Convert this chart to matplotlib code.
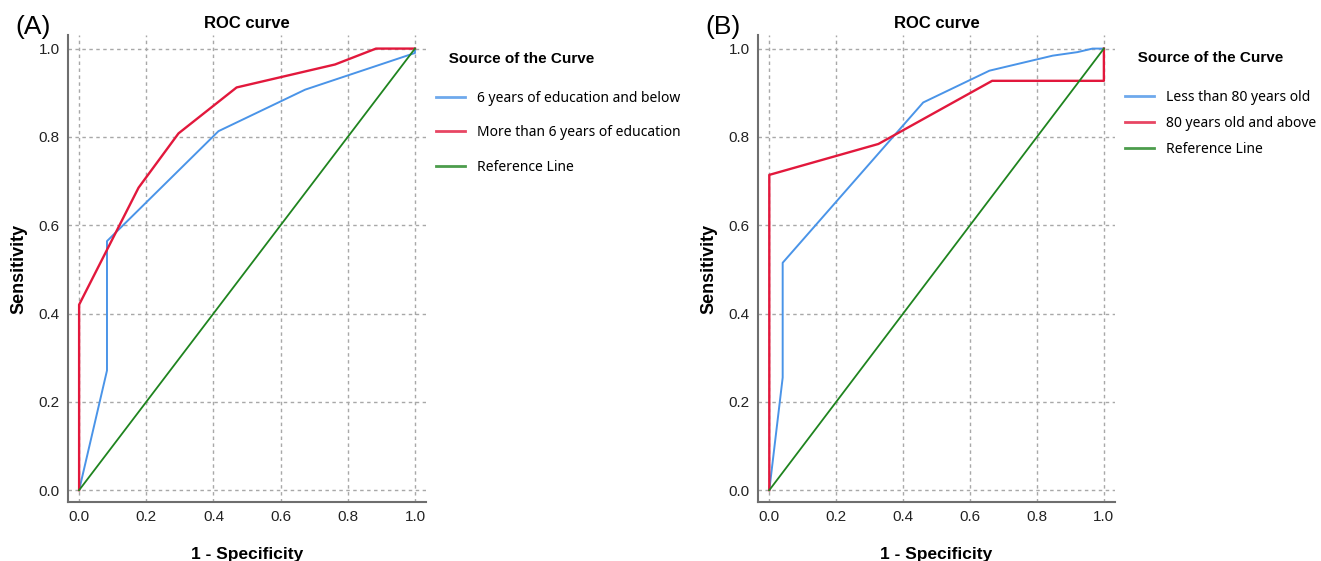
import matplotlib
matplotlib.use("Agg")
import matplotlib.pyplot as plt
from matplotlib.font_manager import FontProperties

# ------------------------------------------
# Data

# panel A: education
fpr_edu_low = [0.0, 0.083, 0.083, 0.415, 0.673, 1.0, 1.0]
tpr_edu_low = [0.0, 0.271, 0.564, 0.813, 0.907, 0.99, 1.0]
fpr_edu_high = [0.0, 0.0, 0.177, 0.296, 0.469, 0.762, 0.884, 1.0]
tpr_edu_high = [0.0, 0.42, 0.685, 0.808, 0.912, 0.964, 1.0, 1.0]

# panel B: age
fpr_age_young = [0.0, 0.04, 0.04, 0.46, 0.658, 0.847, 0.921, 0.966, 1.0]
tpr_age_young = [0.0, 0.255, 0.515, 0.878, 0.95, 0.984, 0.992, 1.0, 1.0]
fpr_age_old = [0.0, 0.0, 0.326, 0.666, 1.0, 1.0]
tpr_age_old = [0.0, 0.714, 0.784, 0.927, 0.927, 1.0]

ref_line = [0.0, 1.0]
ticks = [0.0, 0.2, 0.4, 0.6, 0.8, 1.0]
tick_labels = ["0.0", "0.2", "0.4", "0.6", "0.8", "1.0"]

labels_a = ["6 years of education and below", "More than 6 years of education", "Reference Line"]
labels_b = ["Less than 80 years old", "80 years old and above", "Reference Line"]

BLUE = "#4a94e8"
RED = "#e2183c"
GREEN = "#1f841f"

plt.rcParams["font.family"] = ["Liberation Sans", "DejaVu Sans"]

fig = plt.figure(figsize=(13.21, 5.61), dpi=100)
ax_a = fig.add_axes([0.0515, 0.105, 0.271, 0.832])
ax_b = fig.add_axes([0.574, 0.105, 0.270, 0.832])


def draw_panel(ax, x1, y1, x2, y2, labels, letter, spacing, top):
    ax.plot(x1, y1, color=BLUE, linewidth=1.4, label=labels[0])
    ax.plot(x2, y2, color=RED, linewidth=1.7, label=labels[1])
    ax.plot(ref_line, ref_line, color=GREEN, linewidth=1.3, label=labels[2])

    ax.set_xlim(-0.033, 1.033)
    ax.set_ylim(-0.027, 1.03)
    ax.set_xticks(ticks)
    ax.set_xticklabels(tick_labels)
    ax.set_yticks(ticks)
    ax.set_yticklabels(tick_labels)
    ax.tick_params(length=0, labelsize=11, colors="#222222", pad=6)

    ax.grid(True, color="#a8a8a8", linestyle=(0, (2.5, 2.5)), linewidth=1.0)
    ax.set_axisbelow(True)

    for s in ["top", "right"]:
        ax.spines[s].set_visible(False)
    for s in ["left", "bottom"]:
        ax.spines[s].set_color("#6e6e6e")
        ax.spines[s].set_linewidth(1.5)

    ax.set_title("ROC curve", fontsize=12, fontweight="bold", pad=5)
    ax.set_xlabel("1 - Specificity", fontsize=12.5, fontweight="bold", labelpad=16)
    ax.set_ylabel("Sensitivity", fontsize=13, fontweight="bold", labelpad=8)

    title_font = FontProperties(family="Liberation Sans", weight="bold", size=11)
    entry_font = FontProperties(family=["Noto Sans", "DejaVu Sans"], size=10)
    leg = ax.legend(
        loc="upper left",
        bbox_to_anchor=(1.028, top),
        frameon=False,
        title="   Source of the Curve",
        title_fontproperties=title_font,
        prop=entry_font,
        alignment="left",
        handlelength=2.1,
        handletextpad=0.85,
        labelspacing=spacing,
        borderpad=0,
        borderaxespad=0,
    )
    for line in leg.get_lines():
        line.set_linewidth(2.0)
        line.set_alpha(0.8)
    leg._legend_box.sep = 18

    ax.text(-0.148, 1.017, letter, transform=ax.transAxes, fontsize=19,
            ha="left", va="center")


draw_panel(ax_a, fpr_edu_low, tpr_edu_low, fpr_edu_high, tpr_edu_high, labels_a, "(A)", 1.4, 0.965)
draw_panel(ax_b, fpr_age_young, tpr_age_young, fpr_age_old, tpr_age_old, labels_b, "(B)", 0.8, 0.967)

fig.savefig("out.png", dpi=100)
